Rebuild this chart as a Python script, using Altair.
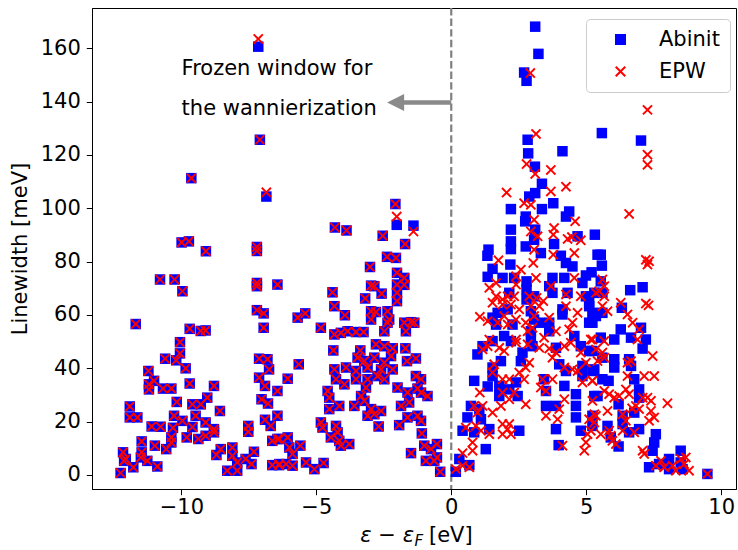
import altair as alt
import pandas as pd

# ---------------- data ----------------
# points inside the frozen window (x < 0): Abinit and EPW coincide
frozen_x = [
    -9.63, -9.99, -9.72, -9.09, -7.2, -7.2, -10.79, -10.25, -9.96, -7.2, -7.2, -6.44,
    -7.2, -6.95, -6.95, -11.69, -9.69, -9.28, -9.1, -10.05, -10.05, -10.6, -10.19, -9.84,
    -11.22, -11.01, -11.2, -11.2, -10.68, -10.37, -9.69, -8.79, -7.12, -6.81, -6.75, -7.12,
    -6.9, -6.44, -7.03, -6.79, -10.17, -9.59, -9.28, -9.04, -11.91, -8.57, -11.91, -11.63,
    -10.27, -9.96, -9.47, -9.1, -8.79, -11.1, -10.77, -10.31, -9.59, -7.52, -7.52, -6.9,
    -6.69, -6.44, -9.8, -9.37, -9.1, -8.79, -10.37, -10.37, -11.47, -10.98, -10.56, -12.16,
    -11.47, -12.12, -12.06, -11.5, -11.26, -11.78, -10.89, -12.25, -8.54, -8.7, -8.11, -8.11,
    -7.93, -7.62, -7.31, -7.4, -8.3, -7.93, -6.63, -6.38, -6.44, -6.63, -7.09,
    -2.07, -4.31, -3.88, -2.54, -1.71, -2.38, -2.05, -3.01, -2.01, -1.74, -2.97, -2.85,
    -2.01, -1.74, -4.4, -3.19, -2.58, -2.01, -2.01, -4.33, -3.94, -2.97, -2.79, -2.97,
    -2.36, -2.3, -2.36, -5.69, -5.41, -4.83, -4.33, -4.09, -3.84, -3.53, -3.25, -2.48,
    -1.74, -1.49, -1.37, -1.68, -4.37, -3.37, -2.79, -2.48, -2.17, -1.7, -1.31, -1.64,
    -3.47, -3.22, -2.85, -2.23, -2.48, -4.33, -3.9, -3.53, -3.1, -2.6, -2.17, -4.27,
    -3.96, -3.53, -3.1, -2.73, -2.48, -1.31, -1.12, -4.58, -4.52, -3.16, -3.34, -3.59,
    -3.22, -2.97, -2.6, -1.99, -1.62, -1.25, -0.88, -1.12, -1.86, -1.56, -4.15, -4.52,
    -3.1, -2.85, -1.93, -1.62, -1.25, -1.12, -2.69, -4.83, -4.77, -4.27, -4.21, -1.09,
    -4.46, -4.15, -3.78, -4.09, -1.0, -0.75, -0.53, -1.49, -0.94, -0.63, -0.53, -0.41,
    -5.65, -6.06, -6.37, -6.06, -6.0, -5.88, -5.59, -6.37, -6.12, -5.88, -5.38, -5.07, -4.73,
]
frozen_y = [
    111.3, 87.2, 87.6, 83.9, 85.5, 84.0, 73.3, 73.3, 68.9, 72.0, 70.8, 71.4,
    61.8, 60.6, 55.2, 56.6, 54.8, 54.0, 54.2, 49.8, 45.6, 43.6, 43.0, 40.0,
    39.0, 35.3, 34.0, 32.1, 32.4, 32.4, 34.3, 33.4, 43.6, 43.4, 39.6, 36.5,
    33.4, 31.5, 28.4, 26.8, 27.4, 26.5, 26.5, 29.0, 25.7, 24.0, 21.6, 21.6,
    22.2, 20.3, 22.2, 19.7, 17.2, 18.2, 18.1, 17.7, 18.0, 18.4, 16.2, 20.7,
    18.4, 22.2, 14.1, 13.5, 14.7, 16.0, 14.1, 12.2, 12.6, 11.0, 9.7, 8.5,
    8.5, 5.3, 6.0, 6.6, 5.3, 2.9, 3.2, 0.75, 9.7, 7.5, 10.3, 7.2,
    4.7, 6.0, 8.7, 4.1, 1.6, 1.6, 3.7, 3.7, 13.5, 12.8, 125.7,
    101.6, 92.8, 91.7, 89.7, 86.6, 81.8, 81.4, 78.0, 75.8, 73.9, 71.0, 70.8,
    71.4, 71.3, 68.5, 66.2, 68.0, 68.3, 65.2, 63.3, 59.9, 61.4, 61.1, 58.3,
    61.4, 58.3, 57.1, 59.0, 60.6, 55.2, 52.7, 53.3, 53.9, 53.6, 53.6, 53.9,
    57.1, 57.3, 57.1, 53.9, 46.7, 46.7, 49.0, 48.3, 47.5, 47.5, 43.7, 42.7,
    44.0, 42.7, 44.0, 44.6, 42.1, 39.6, 40.3, 39.0, 40.3, 39.6, 39.6, 35.9,
    34.0, 35.9, 35.9, 37.1, 35.9, 37.1, 35.9, 31.5, 29.0, 32.8, 29.6, 25.9,
    27.8, 24.7, 24.0, 32.8, 30.9, 32.4, 29.6, 30.9, 25.9, 27.2, 25.9, 24.7,
    22.2, 22.8, 18.7, 21.6, 22.2, 20.3, 18.2, 19.7, 17.8, 18.4, 16.0, 15.6,
    14.1, 12.8, 11.6, 11.0, 11.0, 9.7, 11.6, 8.2, 5.3, 5.3, 6.6, 1.2,
    41.5, 36.1, 13.5, 14.1, 10.3, 7.9, 11.0, 4.1, 4.1, 3.5, 4.7, 2.2, 4.5,
]

# Abinit points outside the shared set
abinit_x = [
    -6.85, -7.15, -2.02, -1.4,
    3.11, 3.23, 2.7, 2.79, 2.83, 2.85, 4.12, 5.58, 7.03,
    3.1, 3.36, 3.11, 2.89, 2.21, 2.76, 2.74, 3.36, 3.78, 4.25, 4.37,
    2.21, 3.11, 2.21, 2.21, 2.76, 3.07, 3.81, 4.68, 5.32,
    1.38, 1.34, 3.32, 4.06, 4.25, 4.49, 5.42,
    1.53, 2.19, 1.35, 1.9, 2.33, 2.79, 2.79, 3.75, 4.19, 3.63, 3.75, 4.99, 4.86,
    2.15, 3.07, 2.79, 4.31, 4.99,
    1.72, 2.09, 1.53, 1.66, 2.95, 3.07, 3.26, 3.63, 3.63, 4.12, 4.12, 5.11, 5.11, 5.36,
    2.27, 2.95, 2.95, 1.96, 2.21, 4.56, 1.53, 1.16, 0.97, 3.01, 2.64, 3.88, 4.8, 5.11,
    1.84, 1.53, 1.53, 2.58, 4.0, 4.25, 4.86, 4.86, 5.3,
    0.85, 1.35, 1.78, 1.78, 2.15, 2.4, 2.46, 3.44, 3.51, 3.51, 3.88, 4.19, 4.62, 4.62, 4.62, 5.3,
    0.73, 0.6, 1.04, 1.1, 0.42, 0.85, 1.41, 1.28, 2.52, 3.88, 3.98, 4.8, 0.3, 0.17, 0.67,
    5.54, 5.58, 5.2, 5.54, 5.3, 5.6, 6.63, 7.09, 5.11, 5.23, 5.23, 5.6, 6.32, 6.28, 7.03,
    7.21, 7.09, 5.54, 6.04, 6.66, 5.23, 5.6, 6.04, 6.04, 6.59, 6.66, 5.23, 5.6, 5.83,
    6.78, 6.96, 6.96, 5.42, 6.2, 6.35, 6.78, 5.23, 5.23, 5.79, 6.35, 6.96, 6.59, 5.91,
    6.2, 7.58, 7.52, 7.46, 7.33, 7.7, 8.07, 8.07, 8.5, 8.5, 8.57, 9.49,
]
abinit_y = [
    104.4, 160.6, 93.8, 93.5,
    168.1, 157.9, 150.9, 147.8, 125.7, 120.6, 121.4, 128.2, 125.4,
    115.6, 109.2, 105.7, 104.4, 99.7, 96.9, 95.1, 99.7, 101.9, 96.9, 98.8,
    92.0, 92.0, 87.6, 84.7, 85.7, 88.2, 86.6, 89.5, 90.1,
    84.5, 82.2, 83.2, 82.2, 79.5, 78.2, 82.6,
    77.3, 78.9, 74.3, 73.9, 73.9, 72.6, 69.5, 73.9, 73.9, 70.8, 68.3, 74.8, 72.0,
    68.3, 67.0, 65.8, 68.3, 67.0,
    60.8, 62.1, 59.0, 56.4, 61.4, 58.3, 57.1, 57.1, 53.9, 62.1, 60.2, 63.3, 57.1, 59.6,
    56.4, 53.9, 50.8, 52.1, 50.2, 52.1, 50.2, 48.3, 45.2, 48.3, 45.9, 47.7, 48.3, 46.5,
    42.7, 40.3, 37.1, 42.7, 41.5, 39.0, 40.9, 37.1, 39.6,
    35.3, 33.2, 33.4, 29.6, 32.1, 34.7, 29.6, 35.9, 31.5, 25.9, 25.9, 33.4, 30.3, 25.9, 21.6, 29.6,
    25.9, 21.6, 24.7, 20.9, 16.6, 16.0, 17.2, 9.7, 16.6, 17.2, 11.2, 16.6, 6.0, 1.2, 3.7,
    82.6, 78.5, 76.0, 72.6, 68.3, 68.3, 69.3, 70.4, 64.6, 60.8, 57.1, 60.8, 62.7, 54.6, 55.2,
    50.8, 47.4, 51.5, 50.8, 51.5, 46.5, 44.0, 43.4, 40.3, 43.4, 40.9, 39.0, 35.9, 35.3,
    35.9, 32.1, 29.0, 29.6, 26.5, 22.2, 23.4, 22.2, 18.4, 18.4, 19.1, 17.2, 16.0, 14.1,
    10.7, 15.3, 12.2, 9.1, 2.9, 4.1, 6.0, 2.2, 9.1, 4.7, 2.2, 0.4,
]

# EPW points outside the shared set
epw_x = [
    -6.85, -7.15, -2.02, -1.4,
    2.93, 3.14, 7.27, 7.27, 7.27, 2.79, 3.11, 3.69, 4.25, 2.05, 3.69, 2.7, 2.95, 3.07,
    4.59, 3.81, 3.78, 2.95, 3.2, 4.31, 4.47, 4.8, 3.07, 3.78, 4.56, 1.75, 3.04, 2.58,
    2.4, 3.14, 4.56, 1.66, 1.41, 2.4, 3.69,
    1.66, 1.9, 2.09, 2.33, 2.89, 3.16, 3.41, 4.25, 4.25, 4.8, 5.36,
    1.53, 1.9, 2.21, 2.52, 2.95, 3.26, 3.07, 3.63, 4.68, 4.49, 4.37,
    1.06, 1.35, 1.72, 1.96, 2.09, 2.4, 2.76, 2.83, 3.01, 3.88, 5.23,
    1.41, 1.35, 1.16, 1.78, 1.96, 2.4, 2.4, 2.83, 3.26, 3.44, 3.63, 3.88, 3.75, 4.19, 4.43, 4.8, 4.99,
    1.59, 1.53, 1.9, 2.15, 2.52, 2.76, 2.7, 2.89, 3.38, 3.75, 4.19, 4.49, 4.68, 4.86, 5.23,
    1.06, 1.9, 2.15, 2.33, 2.76, 3.32, 3.51, 4.0, 4.19,
    0.85, 1.16, 0.97, 1.53, 1.84, 3.51, 3.94, 5.11, 5.36,
    0.54, 0.91, 1.1, 1.41, 1.9, 2.09, 2.15, 1.9, 2.21, 5.05, 4.99, 4.93, 4.12, 0.79, 0.79, 0.42,
    0.17, 0.42, 0.67,
    6.59, 7.21, 7.33, 7.27, 5.6, 5.67, 5.48, 5.67, 7.21, 7.31, 6.28, 5.6, 5.79, 6.53, 6.72,
    6.96, 6.9, 5.17, 5.67, 7.46, 5.36, 5.6, 5.42, 5.67, 6.53, 6.66, 6.53, 7.15, 7.52, 5.23,
    6.47, 6.59, 6.22, 5.67, 5.85, 6.04, 5.23, 6.84, 6.96, 7.09, 7.27, 7.4, 6.7, 8.01, 7.4,
    7.52, 7.33, 5.79, 6.35, 6.47, 5.3, 5.3, 5.17, 5.54, 5.91, 5.97, 6.1, 5.85, 6.35, 6.78,
    7.09, 7.15, 7.77, 7.58, 7.89, 8.2, 8.32, 8.51, 8.69, 8.63, 8.81, 9.49,
]
epw_y = [
    106.0, 163.5, 96.9, 91.3,
    150.7, 127.9, 136.9, 120.1, 116.3, 116.6, 112.9, 114.4, 108.1, 105.9, 106.3, 101.9, 101.3, 95.7,
    95.1, 92.6, 90.1, 91.3, 89.5, 88.5, 89.2, 88.0, 84.5, 82.6, 83.2, 80.5, 79.5, 77.0,
    74.5, 73.9, 73.9, 72.0, 70.2, 71.4, 70.8,
    67.0, 65.8, 67.0, 67.0, 67.0, 66.4, 65.2, 67.7, 63.3, 67.0, 68.3,
    64.6, 63.9, 63.9, 62.1, 63.3, 63.3, 59.6, 59.0, 60.8, 57.1, 54.6,
    59.3, 57.7, 57.1, 59.6, 56.4, 58.3, 57.1, 53.9, 55.2, 53.9, 50.8,
    50.8, 48.3, 47.1, 47.7, 46.5, 50.8, 49.6, 49.0, 47.7, 51.5, 47.4, 45.9, 44.0, 48.3, 49.6, 45.9, 42.1,
    41.5, 38.4, 35.9, 35.9, 38.4, 40.3, 35.9, 42.1, 35.9, 35.9, 40.3, 39.6, 39.0, 34.7, 35.3,
    30.9, 30.9, 28.4, 30.9, 26.5, 32.8, 31.5, 24.7, 28.4,
    25.9, 25.9, 23.4, 23.4, 25.9, 22.2, 20.9, 20.9, 22.2,
    17.8, 18.4, 16.6, 15.3, 19.1, 17.2, 19.1, 15.3, 15.3, 15.3, 12.2, 9.1, 11.0, 12.2, 9.1, 8.2,
    2.2, 3.5, 2.9,
    97.9, 80.7, 80.1, 78.9, 73.3, 70.8, 68.9, 67.0, 64.3, 63.6, 64.6, 63.3, 61.4, 60.2, 57.1,
    54.6, 50.8, 50.8, 50.2, 44.6, 47.1, 45.9, 42.7, 44.0, 42.1, 42.7, 37.1, 37.1, 37.1, 35.3,
    32.1, 30.3, 29.6, 31.5, 30.3, 29.0, 27.8, 25.9, 24.7, 29.0, 29.0, 27.8, 25.0, 26.9, 24.0,
    21.6, 20.3, 24.0, 22.8, 20.3, 22.8, 19.7, 16.6, 15.3, 14.7, 12.8, 11.6, 16.6, 16.6, 16.0,
    9.1, 7.9, 5.3, 3.5, 2.9, 3.5, 1.6, 6.0, 6.6, 4.1, 1.6, 0.4,
]

series_names = ["Abinit", "EPW"]
series_colors = ["#0000ff", "#ff0000"]
x_ticks = [-10, -5, 0, 5, 10]
y_ticks = [0, 20, 40, 60, 80, 100, 120, 140, 160]
note_lines = ["Frozen window for", "the wannierization"]
note_x = [-9.99, -9.99]
note_y = [150.0, 135.1]
arrow_y = [139.7]
arrow_from = [0.0]
arrow_to = [-1.85]
arrow_head_x = [-2.06]
fermi_x = [0.0]

# ---------------- build tables ----------------
rows = []
for x, y in zip(frozen_x + abinit_x, frozen_y + abinit_y):
    rows.append({"e": x, "lw": y, "series": "Abinit"})
for x, y in zip(frozen_x + epw_x, frozen_y + epw_y):
    rows.append({"e": x, "lw": y, "series": "EPW"})
df = pd.DataFrame(rows)

X_PATH = ("M1,0.74L0.26,0L1,-0.74L0.74,-1L0,-0.26L-0.74,-1L-1,-0.74L-0.26,0"
          "L-1,0.74L-0.74,1L0,0.26L0.74,1Z")
HEAD_PATH = "M-1,0L1,-1L1,1Z"

FONT = "DejaVu Sans"
FS = 21
W, H = 644, 481

xs = alt.Scale(domain=[-13.31, 10.55], nice=False, zero=False)
ys = alt.Scale(domain=[-5.25, 175.1], nice=False, zero=False)

leg = alt.Legend(title=None, orient="none", legendX=494, legendY=11)

points = alt.Chart(df).mark_point(filled=True, opacity=1, size=110, strokeWidth=0).encode(
    x=alt.X("e:Q", scale=xs,
            axis=alt.Axis(values=x_ticks, title=None, grid=False, labelPadding=2)),
    y=alt.Y("lw:Q", scale=ys,
            axis=alt.Axis(values=y_ticks, title="Linewidth [meV]", grid=False,
                          labelPadding=6, titlePadding=10)),
    color=alt.Color("series:N", scale=alt.Scale(domain=series_names, range=series_colors), legend=leg),
    shape=alt.Shape("series:N", scale=alt.Scale(domain=series_names, range=["square", X_PATH]), legend=leg),
)

fermi = alt.Chart(pd.DataFrame({"x": fermi_x})).mark_rule(
    color="#808080", strokeWidth=2.2, strokeDash=[7.4, 3.2]
).encode(x=alt.X("x:Q", scale=xs))

shaft = alt.Chart(pd.DataFrame({"x": arrow_from, "x2": arrow_to, "y": arrow_y})).mark_rule(
    color="#8a8a8a", strokeWidth=4.5
).encode(x=alt.X("x:Q", scale=xs), x2="x2:Q", y=alt.Y("y:Q", scale=ys))

head = alt.Chart(pd.DataFrame({"x": arrow_head_x, "y": arrow_y})).mark_point(
    shape=HEAD_PATH, filled=True, color="#8a8a8a", size=289, opacity=1, strokeWidth=0
).encode(x=alt.X("x:Q", scale=xs), y=alt.Y("y:Q", scale=ys))

note = alt.Chart(pd.DataFrame({"x": note_x, "y": note_y, "t": note_lines})).mark_text(
    align="left", baseline="alphabetic", font=FONT, fontSize=FS, color="black"
).encode(x=alt.X("x:Q", scale=xs), y=alt.Y("y:Q", scale=ys), text="t:N")

# x-axis title with subscript, composed of text pieces
tx = alt.Chart(pd.DataFrame({"a": [0]})).mark_text(
    text="ε − ε", align="right", baseline="alphabetic", font=FONT, fontSize=FS,
    fontStyle="italic", color="black"
).encode(x=alt.value(322), y=alt.value(534))
tsub = alt.Chart(pd.DataFrame({"a": [0]})).mark_text(
    text="F", align="left", baseline="alphabetic", font=FONT, fontSize=15,
    fontStyle="italic", color="black"
).encode(x=alt.value(322.5), y=alt.value(538))
tunit = alt.Chart(pd.DataFrame({"a": [0]})).mark_text(
    text="[eV]", align="left", baseline="alphabetic", font=FONT, fontSize=FS, color="black"
).encode(x=alt.value(337), y=alt.value(534))

chart = alt.layer(fermi, points, shaft, head, note, tx, tsub, tunit).properties(
    width=W, height=H,
    padding={"left": 92, "top": 8, "right": 2, "bottom": 61},
    autosize=alt.AutoSizeParams(type="none"),
    background="white",
).configure_view(
    stroke="#000000", strokeWidth=1
).configure_axis(
    labelFont=FONT, labelFontSize=FS, labelColor="black",
    titleFont=FONT, titleFontSize=FS, titleFontWeight="normal", titleColor="black",
    domainColor="black", domainWidth=1, tickColor="black", tickWidth=1, tickSize=5.7,
).configure_legend(
    labelFont=FONT, labelFontSize=FS, labelColor="black",
    symbolSize=121, symbolStrokeWidth=0, padding=10, symbolOffset=14,
    labelOffset=28, rowPadding=10,
    strokeColor="#cccccc", fillColor="rgba(255,255,255,0.8)", cornerRadius=4,
)

chart.save("out.html", embed_options={"renderer": "svg", "actions": False})
